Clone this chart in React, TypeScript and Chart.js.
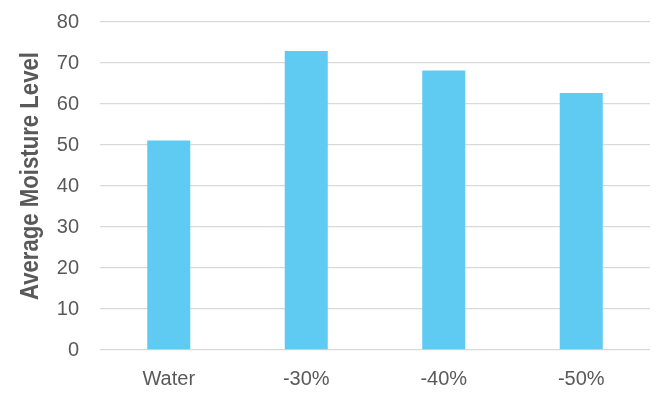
import React, { useEffect, useRef } from "react";
import { Chart, registerables } from "chart.js";

Chart.register(...registerables);

const categories = ["Water", "-30%", "-40%", "-50%"];
const moistureValues = [51.1, 72.9, 68.2, 62.7];
const yAxisTitle = "Average Moisture Level";
const yMin = 0;
const yMax = 80;
const yStep = 10;

const TEXT = "#595959";
const FONT = "'Liberation Sans', Arial, sans-serif";

export default function App() {
  const ref = useRef<HTMLCanvasElement | null>(null);

  useEffect(() => {
    document.body.style.margin = "0";
    const canvas = ref.current;
    if (!canvas) return;

    const titlePlugin = {
      id: "yTitle",
      afterDraw(chart: any) {
        const ctx = chart.ctx;
        ctx.save();
        ctx.font = "bold 26px 'Liberation Sans', Arial, sans-serif";
        const w = ctx.measureText(yAxisTitle).width;
        const target = 248;
        ctx.translate(31, 176);
        ctx.rotate(-Math.PI / 2);
        ctx.scale(target / w, 1);
        ctx.fillStyle = TEXT;
        ctx.textAlign = "center";
        ctx.textBaseline = "middle";
        ctx.fillText(yAxisTitle, 0, 0);
        ctx.restore();
      },
    };

    const chart = new Chart(canvas, {
      type: "bar",
      data: {
        labels: categories,
        datasets: [
          {
            data: moistureValues,
            backgroundColor: "#5FCBF3",
            borderWidth: 0,
            barPercentage: 1,
            categoryPercentage: 0.313,
          },
        ],
      },
      plugins: [titlePlugin],
      options: {
        animation: false,
        responsive: false,
        maintainAspectRatio: false,
        devicePixelRatio: 1,
        layout: { padding: { top: 22, right: 17, left: 0, bottom: 0 } },
        plugins: { legend: { display: false }, tooltip: { enabled: false } },
        scales: {
          x: {
            grid: { display: false, drawTicks: false },
            border: { display: false },
            ticks: {
              color: TEXT,
              font: { family: FONT, size: 20 },
              padding: 17,
            },
            afterFit(scale: any) {
              scale.height = 51;
              scale.paddingLeft = 0;
              scale.paddingRight = 0;
            },
          },
          y: {
            min: yMin,
            max: yMax,
            grid: { color: "#D9D9D9", lineWidth: 1.3, drawTicks: false },
            border: { display: false },
            ticks: {
              stepSize: yStep,
              color: TEXT,
              font: { family: FONT, size: 20 },
              padding: 21,
            },
            afterFit(scale: any) {
              scale.width = 100;
              scale.paddingTop = 0;
              scale.paddingBottom = 0;
            },
          },
        },
      },
    });
    return () => chart.destroy();
  }, []);

  return <canvas ref={ref} width={667} height={401} style={{ display: "block" }} />;
}
